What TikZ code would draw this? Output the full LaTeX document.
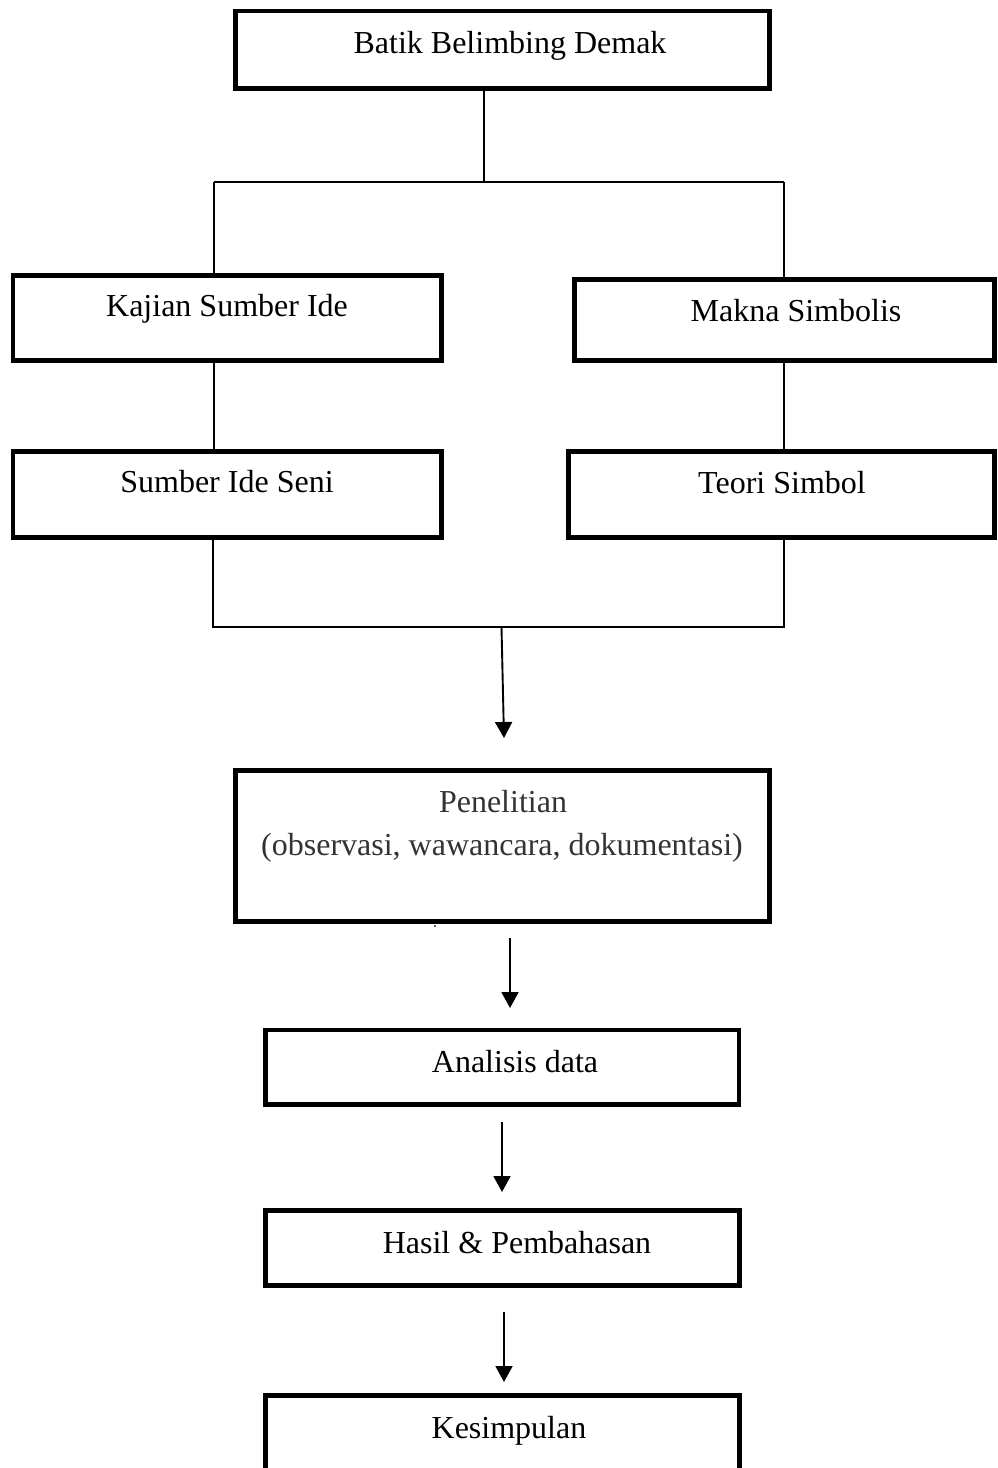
\documentclass[tikz,border=0pt]{standalone}
\usepackage{fontspec}
\setmainfont{Liberation Serif}
\usetikzlibrary{arrows.meta}
\tikzset{
  box/.style={draw=black, line width=4.5pt, rectangle, inner sep=0pt, outer sep=0pt, fill=none},
  lbl/.style={anchor=base, inner sep=0pt, font=\fontsize{32}{43}\selectfont},
  thin/.style={draw=black, line width=1.7pt},
  arr/.style={draw=black, line width=1.9pt, -{Triangle[length=16pt,width=17pt]}}
}
\begin{document}
\begin{tikzpicture}[x=1pt,y=-1pt]
\useasboundingbox (0,0) rectangle (997,1468);
\clip (0,0) rectangle (997,1468);
% boxes
\node[box, minimum width=534pt, minimum height=77.5pt] (top) at (502.5,49.75) {};
\node[box, minimum width=428.5pt, minimum height=85pt] (kajian) at (227.25,318) {};
\node[box, minimum width=420pt, minimum height=81pt] (makna) at (784.5,320) {};
\node[box, minimum width=428.5pt, minimum height=86pt] (sumber) at (227.25,494.5) {};
\node[box, minimum width=426pt, minimum height=86pt] (teori) at (781.5,494.5) {};
\node[box, minimum width=534pt, minimum height=151pt] (penelitian) at (502.5,846) {};
\node[box, minimum width=473.5pt, minimum height=74.5pt] (analisis) at (502.25,1067.25) {};
\node[box, minimum width=474pt, minimum height=75pt] (hasil) at (502.5,1248) {};
\node[box, minimum width=474pt, minimum height=110pt] (kesimpulan) at (502.5,1450.5) {};
% labels
\node[lbl] (topT) at (510,53) {Batik Belimbing Demak};
\node[lbl] (kajianT) at (227,316) {Kajian Sumber Ide};
\node[lbl] (maknaT) at (796,321) {Makna Simbolis};
\node[lbl] (sumberT) at (227,492) {Sumber Ide Seni};
\node[lbl] (teoriT) at (782,493) {Teori Simbol};
\node[lbl, text=black!80] (penT1) at (503,812) {Penelitian};
\node[lbl, text=black!80] (penT2) at (502,855) {(observasi, wawancara, dokumentasi)};
\node[lbl] (analisisT) at (515,1072) {Analisis data};
\node[lbl] (hasilT) at (517,1253) {Hasil \& Pembahasan};
\node[lbl] (kesimpulanT) at (509,1438) {Kesimpulan};
% junction coordinates
\coordinate (j1) at (484,182);
\coordinate (jl) at (214,182);
\coordinate (jr) at (784,182);
\coordinate (bl) at (213,627);
\coordinate (br) at (784,627);
\coordinate (a1s) at (501.5,627);
\coordinate (a1e) at (504,738);
\coordinate (a2s) at (510,938);
\coordinate (a2e) at (510,1008);
\coordinate (a3s) at (502,1122);
\coordinate (a3e) at (502,1192);
\coordinate (a4s) at (504,1312);
\coordinate (a4e) at (504,1382);
% connectors
\draw[thin] (top.south -| j1) -- (j1);
\draw[thin] (jl) -- (jr);
\draw[thin] (jl) -- (jl |- kajian.north);
\draw[thin] (jr) -- (jr |- makna.north);
\draw[thin] (kajian.south -| jl) -- (jl |- sumber.north);
\draw[thin] (makna.south -| jr) -- (jr |- teori.north);
\draw[thin] (sumber.south -| bl) -- (bl) -- (br) -- (br |- teori.south);
\draw[arr] (a1s) -- (a1e);
\draw[arr] (a2s) -- (a2e);
\draw[arr] (a3s) -- (a3e);
\draw[arr] (a4s) -- (a4e);
\fill[black!80] (435,926) circle (1.2);
\end{tikzpicture}
\end{document}
